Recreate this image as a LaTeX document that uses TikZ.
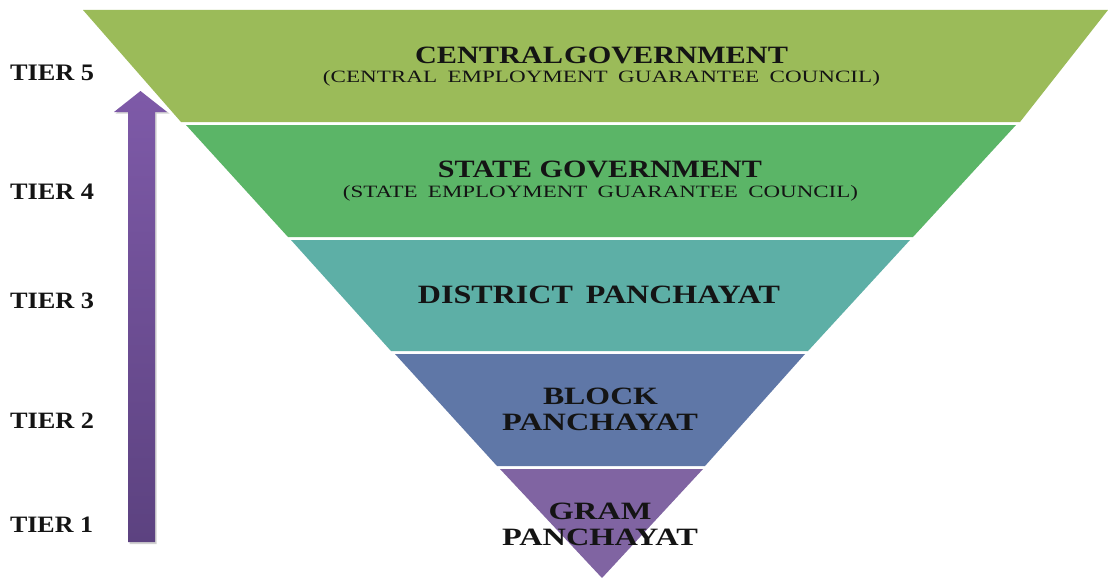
\documentclass[tikz,border=0pt]{standalone}
\usepackage{fontspec}
\setmainfont{Liberation Serif}
\usepackage{graphicx}

% stretch a label to a given width and cap height (in pt)
\newcommand\fitbox[3]{\resizebox{#1pt}{#2pt}{#3}}

\definecolor{bandA}{HTML}{9BBB59}
\definecolor{bandB}{HTML}{5BB567}
\definecolor{bandC}{HTML}{5DAFA6}
\definecolor{bandD}{HTML}{5F77A7}
\definecolor{bandE}{HTML}{8064A2}
\definecolor{arrowtop}{HTML}{7E5AA8}
\definecolor{arrowbot}{HTML}{5C4280}
\definecolor{txt}{HTML}{141414}

\begin{document}
\begin{tikzpicture}[x=1pt,y=-1pt,
  lbl/.style={inner sep=0pt, outer sep=0pt, anchor=base, text=txt},
  tier/.style={lbl, anchor=base west}]

\useasboundingbox[fill=white] (0,0) rectangle (1108,578);

% the five levels of the inverted pyramid
\fill[bandA] (83,10) -- (1108,10) -- (1020,122) -- (181,122) -- cycle;
\fill[bandB] (186,125) -- (1016,125) -- (913,237) -- (288,237) -- cycle;
\fill[bandC] (291,240) -- (910,240) -- (808,351) -- (391,351) -- cycle;
\fill[bandD] (395,354) -- (805,354) -- (705,466) -- (497,466) -- cycle;
\fill[bandE] (500,469) -- (703,469) -- (602,578) -- cycle;

% upward arrow with a soft shadow
\fill[black, opacity=0.18] (129.5,544) -- (129.5,113.5) -- (115.5,113.5) -- (141.5,92.5) -- (169.5,113.5) -- (156.5,113.5) -- (156.5,544) -- cycle;
\shade[top color=arrowtop, bottom color=arrowbot]
  (128,542) -- (128,112) -- (114,112) -- (140.5,91) -- (167,112) -- (155,112) -- (155,542) -- cycle;

% tier labels
\node[tier] (t5) at (10,81)    {\fitbox{84}{15.5}{\bfseries TIER 5}};
\node[tier] (t4) at (10,199)   {\fitbox{84}{15.5}{\bfseries TIER 4}};
\node[tier] (t3) at (10,308.5) {\fitbox{84}{15.5}{\bfseries TIER 3}};
\node[tier] (t2) at (10,428)   {\fitbox{84}{15.5}{\bfseries TIER 2}};
\node[tier] (t1) at (10,532)   {\fitbox{83}{15.5}{\bfseries TIER 1}};

% level titles
\node[lbl] (central) at (601.5,63.3) {\fitbox{373}{16.5}{\bfseries{\spaceskip=0.04em CENTRAL GOVERNMENT}}};
\node[lbl] (centralsub) at (601.5,82.7) {\fitbox{557}{12}{{\spaceskip=0.45em (CENTRAL EMPLOYMENT GUARANTEE COUNCIL)}}};
\node[lbl] (state) at (600,177.5) {\fitbox{324}{16.5}{\bfseries STATE GOVERNMENT}};
\node[lbl] (statesub) at (600.5,197.5) {\fitbox{515}{12}{{\spaceskip=0.45em (STATE EMPLOYMENT GUARANTEE COUNCIL)}}};
\node[lbl] (district) at (599,303.3) {\fitbox{362}{17.5}{\bfseries{\spaceskip=0.4em DISTRICT PANCHAYAT}}};
\node[lbl] (block) at (600.5,404) {\fitbox{115}{16.5}{\bfseries BLOCK}};
\node[lbl] (blockp) at (600,430) {\fitbox{196}{16.5}{\bfseries PANCHAYAT}};
\node[lbl] (gram) at (600,519) {\fitbox{103}{16.5}{\bfseries GRAM}};
\node[lbl] (gramp) at (600,545) {\fitbox{196}{16.5}{\bfseries PANCHAYAT}};

\end{tikzpicture}
\end{document}
